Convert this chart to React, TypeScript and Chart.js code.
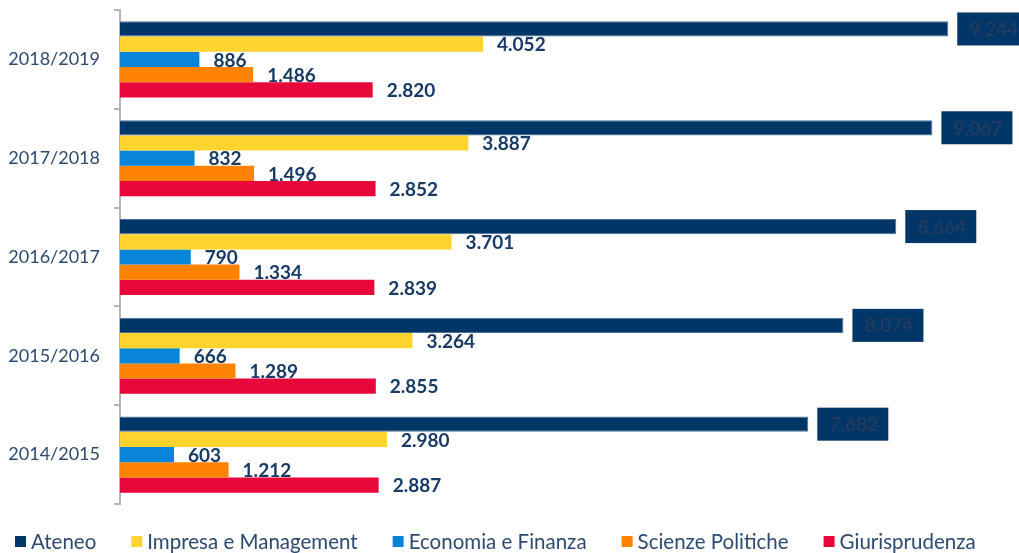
import React, { useEffect, useRef } from "react";
import { Chart, registerables } from "chart.js";

Chart.register(...registerables);

const categories = ["2018/2019", "2017/2018", "2016/2017", "2015/2016", "2014/2015"];
const seriesNames = ["Ateneo", "Impresa e Management", "Economia e Finanza", "Scienze Politiche", "Giurisprudenza"];
const ateneo = [9244, 9067, 8664, 8074, 7682];
const impresa = [4052, 3887, 3701, 3264, 2980];
const economia = [886, 832, 790, 666, 603];
const scienze = [1486, 1496, 1334, 1289, 1212];
const giuris = [2820, 2852, 2839, 2855, 2887];
const colors = ["#003768", "#FFD42F", "#0884D8", "#FF8300", "#E8073B"];
const borders = ["#4f6f96", "#ffe27a", "#0884D8", "#FF8300", "#E8073B"];

const fmt = (v: number) => v.toString().replace(/\B(?=(\d{3})+(?!\d))/g, ".");

const labelPlugin = {
  id: "valueLabels",
  afterDatasetsDraw(chart: any) {
    const ctx = chart.ctx;
    ctx.save();
    chart.data.datasets.forEach((ds: any, di: number) => {
      const meta = chart.getDatasetMeta(di);
      meta.data.forEach((bar: any, i: number) => {
        const v = ds.data[i];
        const text = fmt(v);
        if (di === 0) {
          ctx.font = "19px Lato";
          const bx = bar.x + 9;
          const bw = 71;
          const bh = 33;
          ctx.fillStyle = "#003768";
          ctx.fillRect(bx, bar.y - bh / 2, bw, bh);
          ctx.fillStyle = "#2b3b5a";
          ctx.textAlign = "center";
          ctx.textBaseline = "middle";
          ctx.fillText(text, bx + bw / 2 + 1, bar.y + 1);
        } else {
          ctx.font = "bold 19px Lato";
          ctx.fillStyle = "#183a66";
          ctx.textAlign = "left";
          ctx.textBaseline = "middle";
          ctx.fillText(text, bar.x + 14, bar.y + 1);
        }
      });
    });
    ctx.restore();
  },
};

const legendPlugin = {
  id: "bottomLegend",
  afterDraw(chart: any) {
    const ctx = chart.ctx;
    ctx.save();
    ctx.font = "20.5px Lato";
    ctx.textBaseline = "middle";
    ctx.textAlign = "left";
    const y = 541;
    let x = 15;
    chart.data.datasets.forEach((ds: any) => {
      ctx.fillStyle = ds.backgroundColor;
      ctx.fillRect(x, y - 5, 11, 11);
      x += 16;
      ctx.fillStyle = "#2d4a70";
      ctx.fillText(ds.label, x, y + 1);
      x += ctx.measureText(ds.label).width + 35;
    });
    ctx.restore();
  },
};

export default function App() {
  const ref = useRef<HTMLCanvasElement>(null);
  useEffect(() => {
    const values = [ateneo, impresa, economia, scienze, giuris];
    const chart = new Chart(ref.current!, {
      type: "bar",
      data: {
        labels: categories,
        datasets: seriesNames.map((name, i) => ({
          label: name,
          data: values[i],
          backgroundColor: colors[i],
          borderColor: borders[i],
          borderWidth: i === 0 ? 1 : 0,
          barPercentage: 1,
          categoryPercentage: 0.77,
        })),
      },
      options: {
        indexAxis: "y",
        animation: false,
        responsive: false,
        maintainAspectRatio: false,
        layout: { autoPadding: false, padding: { top: 10, right: 3, left: 0, bottom: 49 } },
        scales: {
          x: {
            display: false,
            min: 0,
            max: 10000,
          },
          y: {
            afterFit: (scale: any) => {
              scale.width = 120;
              scale.paddingTop = 0;
              scale.paddingBottom = 0;
            },
            border: { display: true, color: "#b4b4b4", width: 2 },
            grid: {
              display: true,
              drawOnChartArea: false,
              drawTicks: true,
              tickLength: 6,
              color: "#b4b4b4",
              lineWidth: 2,
              offset: true,
            },
            ticks: {
              padding: 14,
              color: "#2d4a70",
              font: { family: "Lato", size: 18 },
            },
          },
        },
        plugins: {
          legend: { display: false },
          tooltip: { enabled: false },
        },
      },
      plugins: [labelPlugin, legendPlugin],
    });
    return () => chart.destroy();
  }, []);
  return (
    <div style={{ position: "absolute", left: 0, top: 0, width: 1019, height: 553 }}>
      <canvas ref={ref} width={1019} height={553} style={{ width: 1019, height: 553 }} />
    </div>
  );
}
